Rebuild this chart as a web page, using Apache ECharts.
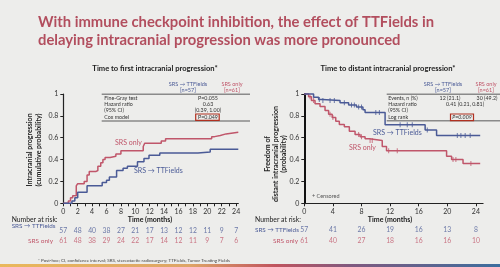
<!DOCTYPE html>
<html>
<head>
<meta charset="utf-8">
<script src="https://cdn.jsdelivr.net/npm/echarts@6/dist/echarts.min.js"></script>
<style>
  html, body { margin: 0; padding: 0; background: #ededeb; }
  #main { width: 500px; height: 267px; }
</style>
</head>
<body>
<div id="main"></div>
<script>
// colours
const RED = '#c0566a';
const BLUE = '#4a5a96';
const FONT = 'Lato';

// left panel: cumulative probability of first intracranial progression [month, prob]
const ttfCum = [[0,0],[1.2,0.02],[1.6,0.05],[2.0,0.1],[3.3,0.16],[5.4,0.19],[6.0,0.21],[6.4,0.24],[7.4,0.3],[8.3,0.32],[8.9,0.34],[10.3,0.38],[11.2,0.41],[11.9,0.44],[13.4,0.46],[18.7,0.47],[20.4,0.495],[24.3,0.495]];
const srsCum = [[0,0],[0.7,0.02],[1.0,0.05],[1.3,0.07],[1.8,0.16],[2.0,0.18],[2.9,0.2],[3.3,0.26],[3.6,0.29],[4.5,0.3],[4.8,0.34],[5.2,0.37],[5.5,0.4],[5.8,0.42],[6.5,0.43],[7.3,0.45],[8.0,0.48],[11.1,0.52],[11.3,0.55],[13.6,0.57],[14.2,0.59],[20.6,0.61],[21.0,0.62],[21.8,0.635],[22.6,0.65],[24.3,0.65]];

// right panel: freedom from distant intracranial progression (KM)
const ttfKm = [[0,1],[1.3,0.97],[2.0,0.95],[2.5,0.94],[5.0,0.92],[6.2,0.9],[7.3,0.88],[8.2,0.855],[8.5,0.83],[11.3,0.718],[16.9,0.67],[18.5,0.62],[24.6,0.62]];
const srsKm = [[0,1],[0.6,0.975],[1.0,0.94],[1.5,0.91],[2.2,0.885],[2.9,0.85],[3.4,0.815],[3.9,0.785],[4.4,0.75],[4.9,0.72],[5.6,0.70],[6.3,0.66],[7.1,0.63],[7.8,0.61],[8.5,0.59],[9.1,0.575],[10.9,0.52],[11.5,0.48],[19.9,0.43],[20.6,0.40],[22.2,0.365],[24.6,0.365]];

// censor ticks (right panel)
const ttfCens = [[2.1,0.95],[2.6,0.94],[3.6,0.94],[4.2,0.94],[5.6,0.92],[6.6,0.9],[7.0,0.9],[7.6,0.88],[8.0,0.88],[10.0,0.83],[10.5,0.83],[13.4,0.718],[14.4,0.718],[15.1,0.718],[17.2,0.67],[21.4,0.62],[21.9,0.62],[22.5,0.62],[23.2,0.62]];
const srsCens = [[0.8,0.975],[1.3,0.94],[3.6,0.815],[4.0,0.785],[7.6,0.63],[8.0,0.61],[9.2,0.575],[9.5,0.575],[11.8,0.48],[13.0,0.48],[20.8,0.40],[21.2,0.40],[23.3,0.365]];

// numbers at risk
const riskMonthsL = [0,2,4,6,8,10,12,14,16,18,20,22,24];
const ttfRiskL = [57,48,40,38,27,21,17,13,12,12,11,9,7];
const srsRiskL = [61,48,38,29,24,22,17,14,12,11,9,7,6];
const riskMonthsR = [0,4,8,12,16,20,24];
const ttfRiskR = [57,41,26,19,16,13,8];
const srsRiskR = [61,40,27,18,16,16,10];

// text
const titleLines = ['With immune checkpoint inhibition, the effect of TTFields in', 'delaying intracranial progression was more pronounced'];
const tableL = [['Fine-Gray test','P=0.055'],['Hazard ratio','0.63'],['(95% CI)','(0.39, 1.00)'],['Cox model','P=0.049']];
const tableR = [['Events, n (%)','12 (21.1)','30 (49.2)'],['Hazard ratio','0.41 (0.21, 0.81)',''],['(95% CI)','',''],['Log rank','P=0.009','']];
const footnote = '* Post-hoc; CI, confidence interval; SRS, stereotactic radiosurgery; TTFields, Tumor Treating Fields';

let myChart = echarts.init(document.getElementById('main'));

function txt(x, y, s, o) {
  o = o || {};
  return {
    type: 'text', x: x, y: y, rotation: o.rot || 0,
    style: {
      text: s, fill: o.color || '#333', fontSize: o.size || 6, fontFamily: FONT,
      fontWeight: o.bold ? 'bold' : 'normal', fontStyle: o.italic ? 'italic' : 'normal',
      align: o.align || 'left', verticalAlign: 'middle', lineHeight: o.lh || 8
    }
  };
}
function hline(x1, x2, y, w, c) {
  return { type: 'line', shape: { x1: x1, y1: y, x2: x2, y2: y }, style: { stroke: c || '#8a8a8a', lineWidth: w || 1 } };
}
function box(x, y, w, h) {
  return { type: 'rect', shape: { x: x, y: y, width: w, height: h }, style: { fill: 'none', stroke: '#b03020', lineWidth: 1.2 } };
}

let graphics = [];
graphics.push(txt(38, 22.7, titleLines[0], { size: 14.8, bold: true, color: '#b24e5e' }));
graphics.push(txt(38, 40, titleLines[1], { size: 14.8, bold: true, color: '#b24e5e' }));
graphics.push(txt(155, 68.3, 'Time to first intracranial progression*', { size: 7.6, bold: true, align: 'center', color: '#222' }));
graphics.push(txt(388, 68.3, 'Time to distant intracranial progression*', { size: 7.6, bold: true, align: 'center', color: '#222' }));

// left table
graphics.push(txt(188, 84.3, 'SRS \u2192 TTFields', { size: 5.5, align: 'center', color: BLUE }));
graphics.push(txt(188, 90.7, '[n=57]', { size: 5.5, align: 'center', color: BLUE }));
graphics.push(txt(232, 84.3, 'SRS only', { size: 5.5, align: 'center', color: RED }));
graphics.push(txt(232, 90.7, '[n=61]', { size: 5.5, align: 'center', color: RED }));
graphics.push(hline(101.7, 250, 94.3, 1.5));
graphics.push(hline(101.7, 250, 121, 1.5));
const rowY = [97.9, 104, 110.2, 117];
tableL.forEach(function (r, i) {
  graphics.push(txt(104.3, rowY[i], r[0], { size: 5.3 }));
  graphics.push(txt(208, rowY[i], r[1], { size: 5.3, align: 'center' }));
});
graphics.push(box(195.7, 114, 23.5, 6.3));

// right table
graphics.push(txt(443, 84.3, 'SRS \u2192 TTFields', { size: 5.5, align: 'center', color: BLUE }));
graphics.push(txt(443, 90.7, '[n=57]', { size: 5.5, align: 'center', color: BLUE }));
graphics.push(txt(486, 84.3, 'SRS only', { size: 5.5, align: 'center', color: RED }));
graphics.push(txt(486, 90.7, '[n=61]', { size: 5.5, align: 'center', color: RED }));
graphics.push(hline(386.7, 500, 94.3, 1.5));
graphics.push(hline(386.7, 500, 120.8, 1.5));
tableR.forEach(function (r, i) {
  graphics.push(txt(388.3, rowY[i], r[0], { size: 5.3 }));
  if (i === 0) {
    graphics.push(txt(450, rowY[i], r[1], { size: 5.3, align: 'center' }));
    graphics.push(txt(487, rowY[i], r[2], { size: 5.3, align: 'center' }));
  } else if (i === 1) {
    graphics.push(txt(465, rowY[i], r[1], { size: 5.3, align: 'center' }));
  } else if (i === 3) {
    graphics.push(txt(462, rowY[i], r[1], { size: 5.3, align: 'center', italic: true }));
  }
});
graphics.push(box(450.5, 114, 23, 6.6));

// axis names
graphics.push(txt(34, 150, 'Intracranial progression\n(cumulative probability)', { size: 7, bold: true, align: 'center', rot: Math.PI / 2, lh: 8.5, color: '#222' }));
graphics.push(txt(276, 154, 'Freedom of\ndistant intracranial progression\n(probability)', { size: 7, bold: true, align: 'center', rot: Math.PI / 2, lh: 8, color: '#222' }));
graphics.push(txt(150, 220, 'Time (months)', { size: 7, bold: true, align: 'center', color: '#222' }));
graphics.push(txt(390, 219.5, 'Time (months)', { size: 7, bold: true, align: 'center', color: '#222' }));

// curve labels
graphics.push(txt(115, 142.3, 'SRS only', { size: 7, color: RED }));
graphics.push(txt(134, 170.7, 'SRS \u2192 TTFields', { size: 7, color: BLUE }));
graphics.push(txt(373, 132.7, 'SRS \u2192 TTFields', { size: 7, color: BLUE }));
graphics.push(txt(349, 147.3, 'SRS only', { size: 7, color: RED }));
graphics.push(txt(312, 196.7, '+ Censored', { size: 5.5, color: '#555' }));

// number at risk labels
graphics.push(txt(11.7, 220, 'Number at risk:', { size: 6.8, color: '#222' }));
graphics.push(txt(11.7, 225.5, 'SRS \u2192 TTFields', { size: 6.3, color: BLUE }));
graphics.push(txt(53, 240.7, 'SRS only', { size: 6.5, color: RED, align: 'right' }));
graphics.push(txt(255, 220, 'Number at risk:', { size: 6.8, color: '#222' }));
graphics.push(txt(255, 230, 'SRS \u2192 TTFields', { size: 6.3, color: BLUE }));
graphics.push(txt(298, 240.7, 'SRS only', { size: 6.5, color: RED, align: 'right' }));

graphics.push(txt(38, 260.5, footnote, { size: 4.5, color: '#444' }));
graphics.push({
  type: 'rect', shape: { x: 0, y: 264, width: 500, height: 3 },
  style: { fill: new echarts.graphic.LinearGradient(0, 0, 1, 0, [
    { offset: 0, color: '#e9b85c' }, { offset: 0.38, color: '#dea468' },
    { offset: 0.55, color: '#c0545e' }, { offset: 0.7, color: '#80597f' }, { offset: 1, color: '#3c6e9e' }
  ]) }
});

const axisLabelStyle = { fontSize: 7, color: '#333', fontFamily: FONT };
const lineBlack = { lineStyle: { color: '#222', width: 1.2 } };

function stepLine(data, color, xi) {
  return { type: 'line', step: 'end', data: data, xAxisIndex: xi, yAxisIndex: xi, symbol: 'none',
    clip: false, lineStyle: { color: color, width: 1.5 }, z: 3 };
}
function censor(data, color, xi) {
  return { type: 'scatter', data: data, xAxisIndex: xi, yAxisIndex: xi, symbol: 'rect', symbolSize: [1, 5],
    itemStyle: { color: color }, z: 4 };
}
function risk(months, vals, row, color, xi) {
  return { type: 'scatter', xAxisIndex: xi, yAxisIndex: xi, symbolSize: 0,
    data: months.map(function (m, i) { return [m, row, vals[i]]; }),
    label: { show: true, position: 'inside', formatter: function (p) { return p.value[2]; },
      color: color, fontSize: 6.8, fontFamily: FONT } };
}

let option = {
  backgroundColor: '#ededeb',
  animation: false,
  graphic: graphics,
  grid: [
    { left: 63.3, top: 94, width: 175, height: 109.3 },
    { left: 304.3, top: 94, width: 178.75, height: 109.3 },
    { left: 63.3, top: 225.7, width: 175, height: 20 },
    { left: 304.3, top: 224.7, width: 178.75, height: 21.3 }
  ],
  xAxis: [
    { type: 'value', gridIndex: 0, min: 0, max: 24.3, splitLine: { show: false }, axisLine: lineBlack,
      axisTick: { customValues: riskMonthsL.concat([1,3,5,7,9,11,13,15,17,19,21,23]), length: 3, lineStyle: { color: '#222' } },
      axisLabel: Object.assign({ customValues: riskMonthsL, margin: 5 }, axisLabelStyle) },
    { type: 'value', gridIndex: 1, min: 0, max: 25, splitLine: { show: false }, axisLine: lineBlack,
      axisTick: { customValues: riskMonthsR, length: 3, lineStyle: { color: '#222' } },
      axisLabel: Object.assign({ customValues: riskMonthsR, margin: 5 }, axisLabelStyle) },
    { type: 'value', gridIndex: 2, min: 0, max: 24.3, show: false },
    { type: 'value', gridIndex: 3, min: 0, max: 25, show: false }
  ],
  yAxis: [
    { type: 'value', gridIndex: 0, min: 0, max: 1, interval: 0.2, splitLine: { show: false }, axisLine: { show: true, lineStyle: { color: '#222', width: 1.2 } },
      axisTick: { show: true, length: 3, lineStyle: { color: '#222' } }, axisLabel: Object.assign({ margin: 5 }, axisLabelStyle) },
    { type: 'value', gridIndex: 1, min: 0, max: 1, interval: 0.2, splitLine: { show: false }, axisLine: { show: true, lineStyle: { color: '#111', width: 2 } },
      axisTick: { show: true, length: 3, lineStyle: { color: '#222' } }, axisLabel: Object.assign({ margin: 5 }, axisLabelStyle) },
    { type: 'category', gridIndex: 2, data: ['srs', 'ttf'], show: false },
    { type: 'category', gridIndex: 3, data: ['srs', 'ttf'], show: false }
  ],
  series: [
    stepLine(srsCum, RED, 0),
    stepLine(ttfCum, BLUE, 0),
    stepLine(srsKm, RED, 1),
    stepLine(ttfKm, BLUE, 1),
    censor(srsCens, RED, 1),
    censor(ttfCens, BLUE, 1),
    risk(riskMonthsL, ttfRiskL, 'ttf', BLUE, 2),
    risk(riskMonthsL, srsRiskL, 'srs', RED, 2),
    risk(riskMonthsR, ttfRiskR, 'ttf', BLUE, 3),
    risk(riskMonthsR, srsRiskR, 'srs', RED, 3)
  ]
};
myChart.setOption(option);
</script>
</body>
</html>
